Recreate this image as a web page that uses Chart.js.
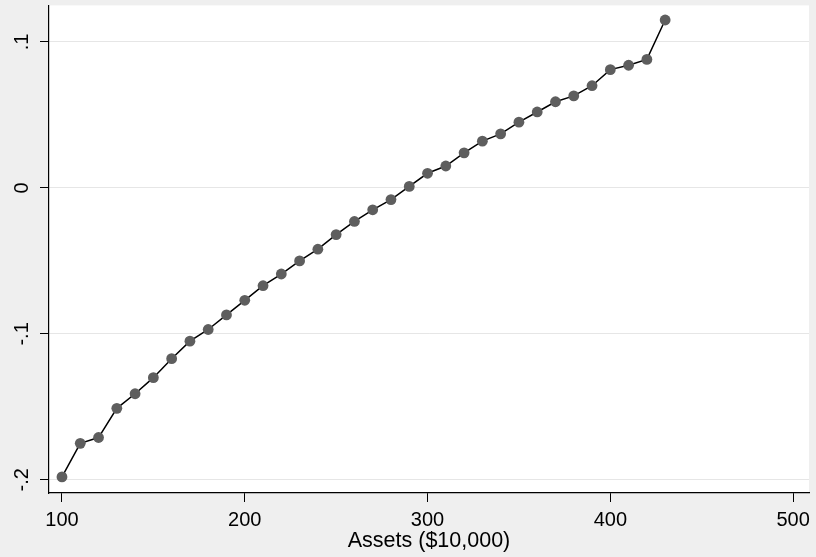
<!DOCTYPE html>
<html>
<head>
<meta charset="utf-8">
<script src="https://cdn.jsdelivr.net/npm/chart.js@4"></script>
<style>
  body { margin: 0; background: #efefef; }
  #wrap { width: 816px; height: 557px; }
</style>
</head>
<body>
<div id="wrap"><canvas id="chart"></canvas></div>
<script>
// データ
const assets = [100, 110, 120, 130, 140, 150, 160, 170, 180, 190,
                200, 210, 220, 230, 240, 250, 260, 270, 280, 290,
                300, 310, 320, 330, 340, 350, 360, 370, 380, 390,
                400, 410, 420, 430];
const residuals = [-0.198, -0.175, -0.171, -0.151, -0.141, -0.130, -0.117, -0.105, -0.097, -0.087,
                   -0.077, -0.067, -0.059, -0.050, -0.042, -0.032, -0.023, -0.015, -0.008, 0.001,
                   0.010, 0.015, 0.024, 0.032, 0.037, 0.045, 0.052, 0.059, 0.063, 0.070,
                   0.081, 0.084, 0.088, 0.115];
const xTicks = [100, 200, 300, 400, 500];
const yTicks = [-0.2, -0.1, 0, 0.1];
const yTickLabels = ['-.2', '-.1', '0', '.1'];
const xTitle = 'Assets ($10,000)';

const FONT = '"Liberation Sans", Arial, sans-serif';

// 背景とY軸ラベル（縦書き回転）
const stataLook = {
    id: 'stataLook',
    beforeDraw(chart) {
        const { ctx, chartArea: a } = chart;
        ctx.save();
        ctx.fillStyle = '#efefef';
        ctx.fillRect(0, 0, chart.width, chart.height);
        ctx.fillStyle = '#ffffff';
        ctx.fillRect(a.left, a.top, a.right - a.left, a.bottom - a.top);
        ctx.restore();
    },
    afterDraw(chart) {
        const { ctx } = chart;
        const y = chart.scales.y;
        ctx.save();
        ctx.fillStyle = '#000000';
        ctx.font = '20px ' + FONT;
        ctx.textAlign = 'center';
        ctx.textBaseline = 'middle';
        yTicks.forEach((v, i) => {
            ctx.save();
            ctx.translate(22.5, y.getPixelForValue(v));
            ctx.rotate(-Math.PI / 2);
            ctx.fillText(yTickLabels[i], 0, 0);
            ctx.restore();
        });
        ctx.restore();
    }
};

new Chart(document.getElementById('chart'), {
    type: 'line',
    data: {
        datasets: [{
            data: assets.map((a, i) => ({ x: a, y: residuals[i] })),
            borderColor: '#000000',
            borderWidth: 1.5,
            pointRadius: 5.4,
            pointBackgroundColor: '#5e5e5e',
            pointBorderColor: '#5e5e5e',
            pointBorderWidth: 0,
            tension: 0
        }]
    },
    options: {
        responsive: true,
        maintainAspectRatio: false,
        animation: false,
        layout: { padding: { top: 3, right: 7, left: 0, bottom: 0 } },
        plugins: { legend: { display: false }, tooltip: { enabled: false } },
        scales: {
            x: {
                type: 'linear',
                min: 92.9,
                max: 508.7,
                afterBuildTicks: s => { s.ticks = xTicks.map(v => ({ value: v })); },
                afterFit: s => { s.height = 64; },
                grid: { drawOnChartArea: false, tickLength: 9, tickColor: '#000000', tickWidth: 1 },
                border: { color: '#000000', width: 1.2 },
                ticks: { color: '#000000', font: { family: FONT, size: 20 }, padding: 6, maxRotation: 0 },
                title: { display: true, text: xTitle, color: '#000000',
                         font: { family: FONT, size: 21.5 }, padding: { top: 0, bottom: 3 } }
            },
            y: {
                min: -0.209,
                max: 0.125,
                afterBuildTicks: s => { s.ticks = yTicks.map(v => ({ value: v })); },
                afterFit: s => { s.width = 49; },
                grid: { color: '#e6e6e6', lineWidth: 1, tickLength: 9, tickColor: '#000000', tickWidth: 1 },
                border: { color: '#000000', width: 1.2 },
                ticks: { display: false }
            }
        }
    },
    plugins: [stataLook]
});
</script>
</body>
</html>
